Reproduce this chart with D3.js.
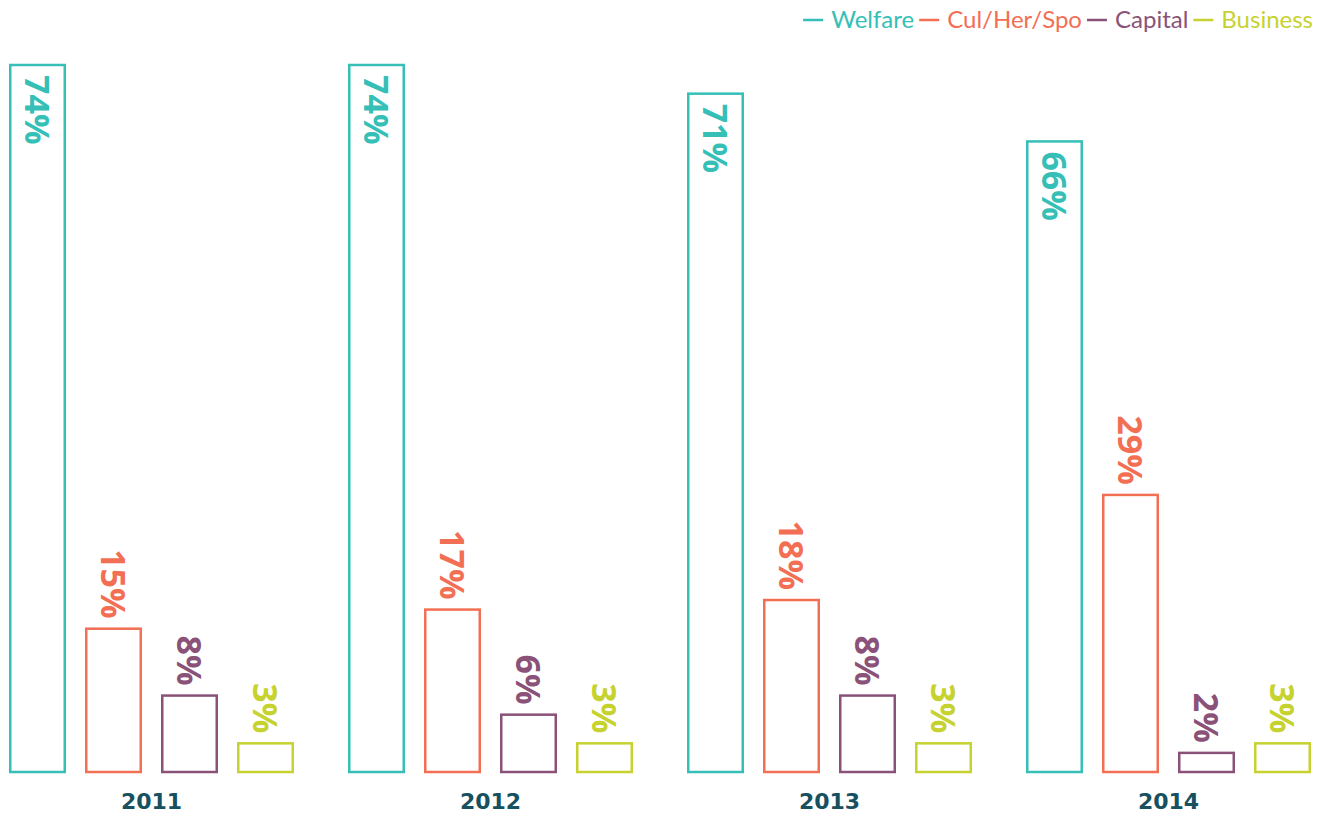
<!DOCTYPE html>
<html>
<head>
<meta charset="utf-8">
<script src="https://cdn.jsdelivr.net/npm/d3@7"></script>
<style>
  body { margin: 0; background: #fff; }
  svg { display: block; }
</style>
</head>
<body>
<div id="chart"></div>
<script>
  'use strict';

  var years = ['2011', '2012', '2013', '2014'];
  var series = ['Welfare', 'Cul/Her/Spo', 'Capital', 'Business'];
  var welfare = [74, 74, 71, 66];
  var culHerSpo = [15, 17, 18, 29];
  var capital = [8, 6, 8, 2];
  var business = [3, 3, 3, 3];

  var colors = ['#35bfb6', '#f36f54', '#8a5278', '#c6d22f'];
  var yearColor = '#17505f';

  var width = 1321, height = 814;
  var baseline = 772, topY = 65;

  var values = [welfare, culHerSpo, capital, business];
  var rows = [];
  years.forEach(function(yr, i) {
    series.forEach(function(s, j) {
      rows.push({ year: yr, series: s, value: values[j][i], idx: j });
    });
  });

  var $svg = d3.select('#chart')
    .append('svg')
    .attr('width', width)
    .attr('height', height);

  var x0 = d3.scaleBand().domain(years).range([9, 9 + 339 * years.length]).padding(0);
  var x1 = d3.scaleBand().domain(series).range([0, 285]).paddingInner(0.25).paddingOuter(0);
  var y = d3.scaleLinear().domain([0, 74]).range([baseline, topY]);

  var $bars = $svg.append('g').attr('class', 'bars');

  $bars.selectAll('rect')
    .data(rows)
    .enter()
    .append('rect')
    .attr('x', function(d) { return x0(d.year) + x1(d.series) + 1.25; })
    .attr('y', function(d) { return y(d.value); })
    .attr('width', x1.bandwidth() - 2.5)
    .attr('height', function(d) { return baseline - y(d.value); })
    .attr('fill', 'none')
    .attr('stroke', function(d) { return colors[d.idx]; })
    .attr('stroke-width', 2.5);

  // value labels, rotated to read top-down
  $bars.selectAll('text.val')
    .data(rows)
    .enter()
    .append('text')
    .attr('class', 'val')
    .attr('transform', function(d) {
      var cx = x0(d.year) + x1(d.series) + x1.bandwidth() / 2;
      var ty = d.idx === 0 ? y(d.value) + 10 : y(d.value) - 10;
      return 'translate(' + cx + ',' + ty + ') rotate(90)';
    })
    .attr('text-anchor', function(d) { return d.idx === 0 ? 'start' : 'end'; })
    .attr('dominant-baseline', 'central')
    .attr('font-family', '"Open Sans", sans-serif')
    .attr('font-weight', 700)
    .attr('font-size', 34)
    .attr('fill', function(d) { return colors[d.idx]; })
    .text(function(d) { return d.value + '%'; });

  // year labels
  $svg.append('g').selectAll('text')
    .data(years)
    .enter()
    .append('text')
    .attr('x', function(d) { return x0(d) + 285 / 2; })
    .attr('y', 809)
    .attr('text-anchor', 'middle')
    .attr('font-family', '"DejaVu Sans", sans-serif')
    .attr('font-weight', 700)
    .attr('font-size', 22)
    .attr('fill', yearColor)
    .text(function(d) { return d; });

  // legend, laid out right to left
  var $legend = $svg.append('g').attr('class', 'legend');
  var lx = 1313;
  for (var k = series.length - 1; k >= 0; k--) {
    var t = $legend.append('text')
      .attr('y', 28)
      .attr('text-anchor', 'end')
      .attr('font-family', 'Lato, sans-serif')
      .attr('font-size', 24)
      .attr('fill', colors[k])
      .attr('x', lx)
      .text(series[k]);
    var w = t.node().getComputedTextLength();
    var dashEnd = lx - w - 8;
    $legend.append('line')
      .attr('x1', dashEnd - 20)
      .attr('x2', dashEnd)
      .attr('y1', 20)
      .attr('y2', 20)
      .attr('stroke', colors[k])
      .attr('stroke-width', 2.5);
    lx = dashEnd - 20 - 5;
  }
</script>
</body>
</html>
